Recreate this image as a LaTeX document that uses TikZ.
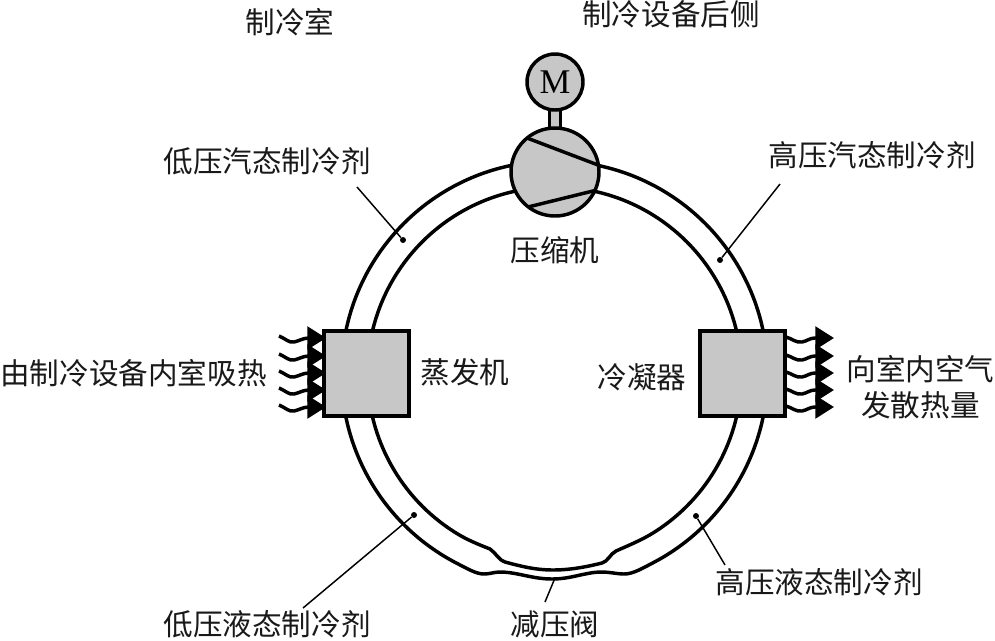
\documentclass[tikz,border=0pt]{standalone}
\usepackage{fontspec}
\setmainfont{Liberation Serif}
\newfontfamily\cjk{Noto Sans CJK SC}
\usetikzlibrary{arrows.meta}
\definecolor{fillgray}{gray}{0.78}
\tikzset{
  x=0.75pt,y=-0.75pt,
  ringline/.style={line width=2.6pt,line join=round},
  boxnode/.style={draw,line width=3pt,fill=fillgray,minimum width=63.5pt,minimum height=63.5pt,inner sep=0pt},
  roundnode/.style={circle,draw,line width=2.6pt,fill=fillgray,inner sep=0pt},
  lab/.style={font=\cjk\fontsize{22.2pt}{27pt}\selectfont,inner sep=0pt,align=center,text=black!90},
  leader/.style={line width=1.1pt},
  dotend/.style={circle,fill=black,inner sep=0pt,minimum size=4.5pt},
  wave/.style={line width=2.6pt,-{Triangle[length=14pt,width=17pt]}}
}
\begin{document}
\begin{tikzpicture}
\useasboundingbox (0,0) rectangle (995,640);
% refrigerant ring
\coordinate (ctr) at (554.5,374);
\draw[ringline] (ctr) ++(180:213) arc[start angle=180,end angle=360,radius=213];
\draw[ringline] (ctr) ++(180:187) arc[start angle=180,end angle=360,radius=187];
\draw[ringline] (ctr) ++(180:213) arc[start angle=180,end angle=118,radius=213]
  .. controls (467,568.5) and (476,574) .. (484,574)
  .. controls (490,574) and (494,572) .. (500,572)
  .. controls (517,572) and (532,579) .. (552,579)
  .. controls (572,579) and (585,572) .. (602,572)
  .. controls (609,572) and (618,574) .. (624,574)
  .. controls (633,574) and (642,568.5) .. (654.5,562)
  arc[start angle=62,end angle=0,radius=213];
\draw[ringline] (ctr) ++(180:187) arc[start angle=180,end angle=122,radius=187]
  .. controls (467,540) and (480,545) .. (490,549)
  .. controls (496,553) and (499,560.5) .. (505,562)
  .. controls (520,566) and (535,570) .. (553,570)
  .. controls (572,570) and (590,566) .. (602,563)
  .. controls (608,561.5) and (610,554) .. (616,551)
  .. controls (626,546.5) and (642,540) .. (653.6,532.6)
  arc[start angle=58,end angle=0,radius=187];
% motor and compressor
\node[draw,line width=1.8pt,fill=fillgray,minimum width=8pt,minimum height=20pt,inner sep=0pt] (shaft) at (555,118) {};
\node[roundnode,minimum size=42pt] (motor) at (555,82) {\fontsize{26pt}{28pt}\selectfont M};
\node[roundnode,minimum size=66pt] (comp) at (555,172) {};
\coordinate (ca) at (527,138); \coordinate (cb) at (598,165);
\coordinate (cc) at (528,207); \coordinate (cd) at (597,190);
\draw[ringline] (ca) -- (cb);
\draw[ringline] (cc) -- (cd);
% heat exchangers
\node[boxnode] (evap) at (366.5,373.5) {};
\node[boxnode] (cond) at (742.5,373.5) {};
\foreach \yy [count=\i] in {338,356,373,390,407} {
  \coordinate (ls\i) at (279,\yy-2);
  \coordinate (le\i) at (326,\yy);
  \draw[wave] (ls\i) .. controls (286,\yy+1) and (289,\yy+5) .. (294,\yy+4)
     .. controls (299,\yy+3) and (303,\yy) .. (309,\yy) -- (le\i);
  \coordinate (rs\i) at (786,\yy-1);
  \coordinate (re\i) at (834,\yy);
  \draw[wave] (rs\i) .. controls (793,\yy+1) and (796,\yy+5) .. (802,\yy+4)
     .. controls (807,\yy+3) and (810,\yy) .. (815,\yy) -- (re\i);
}
% labels
\node[lab] (t1) at (290,22) {制冷室};
\node[lab] (t2) at (671,14) {制冷设备后侧};
\node[lab] (t3) at (267,161) {低压汽态制冷剂};
\node[lab] (t4) at (872,155) {高压汽态制冷剂};
\node[lab] (t5) at (555,250) {压缩机};
\node[lab] (t6) at (133.5,373) {由制冷设备内室吸热};
\node[lab] (t7) at (465,372) {蒸发机};
\node[lab] (t8) at (642,377) {冷凝器};
\node[lab] (t9) at (920.5,387) {向室内空气\\发散热量};
\node[lab] (t10) at (267,624) {低压液态制冷剂};
\node[lab] (t11) at (555,624) {减压阀};
\node[lab] (t12) at (819,582) {高压液态制冷剂};
% leaders
\node[dotend] (d1) at (403,240) {};
\node[dotend] (d2) at (720,260) {};
\node[dotend] (d3) at (414,515) {};
\node[dotend] (d4) at (696,516) {};
\coordinate (v) at (555,578);
\coordinate (s1) at (357,187); \coordinate (s2) at (780,184);
\coordinate (s3) at (303,608); \coordinate (s4) at (725,565);
\coordinate (s5) at (545,602);
\draw[leader] (s1) -- (d1);
\draw[leader] (s2) -- (d2);
\draw[leader] (s3) -- (d3);
\draw[leader] (s4) -- (d4);
\draw[leader] (s5) -- (v);
\end{tikzpicture}
\end{document}
